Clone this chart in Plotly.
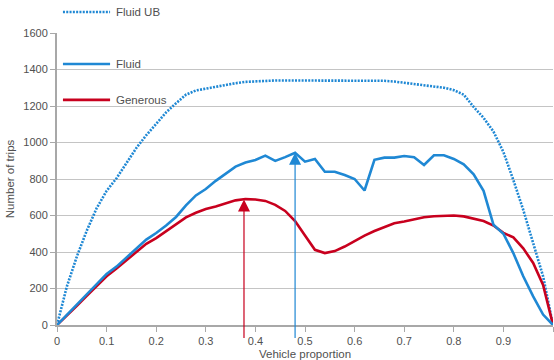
import plotly.graph_objects as go

# ---- data ----
vehicle_proportion = [0.00, 0.02, 0.04, 0.06, 0.08, 0.10, 0.12, 0.14, 0.16, 0.18,
                      0.20, 0.22, 0.24, 0.26, 0.28, 0.30, 0.32, 0.34, 0.36, 0.38,
                      0.40, 0.42, 0.44, 0.46, 0.48, 0.50, 0.52, 0.54, 0.56, 0.58,
                      0.60, 0.62, 0.64, 0.66, 0.68, 0.70, 0.72, 0.74, 0.76, 0.78,
                      0.80, 0.82, 0.84, 0.86, 0.88, 0.90, 0.92, 0.94, 0.96, 0.98, 1.00]

fluid_ub = [0, 212, 375, 517, 640, 735, 804, 890, 970, 1040,
            1100, 1165, 1215, 1262, 1285, 1296, 1305, 1315, 1325, 1332,
            1336, 1338, 1340, 1340, 1340, 1340, 1340, 1340, 1340, 1340,
            1340, 1340, 1340, 1338, 1334, 1328, 1322, 1315, 1310, 1300,
            1287, 1262, 1195, 1135, 1060, 948, 795, 631, 449, 267, 0]

fluid = [0, 55, 110, 170, 225, 280, 320, 370, 420, 468,
         504, 545, 592, 655, 710, 745, 790, 830, 868, 890,
         904, 928, 899, 920, 944, 895, 910, 840, 840, 822,
         800, 737, 905, 917, 917, 926, 919, 877, 930, 930,
         910, 880, 826, 735, 549, 500, 394, 267, 157, 57, 0]

generous = [0, 50, 105, 160, 215, 267, 310, 355, 400, 445,
            476, 515, 555, 590, 615, 635, 650, 668, 683, 690,
            688, 680, 658, 625, 570, 490, 412, 394, 405, 430,
            462, 490, 515, 535, 558, 567, 580, 590, 596, 600,
            600, 595, 582, 570, 545, 505, 480, 420, 340, 220, 0]

x_tick_vals = [0, 0.1, 0.2, 0.3, 0.4, 0.5, 0.6, 0.7, 0.8, 0.9, 1.0]
x_tick_text = ["0", "0.1", "0.2", "0.3", "0.4", "0.5", "0.6", "0.7", "0.8", "0.9", "1"]
y_tick_vals = [0, 200, 400, 600, 800, 1000, 1200, 1400, 1600]

series_names = ["Fluid UB", "Fluid", "Generous"]

# arrow markers (x position, head value)
generous_peak_x = 0.377
generous_peak_y = 688
fluid_peak_x = 0.48
fluid_peak_y = 944
arrow_tail_y = -80

BLUE = "#1f88d4"
RED = "#c8001e"
TEXT = "#505050"
FONT = "Liberation Sans, Arial, sans-serif"

fig = go.Figure()
fig.add_trace(go.Scatter(x=vehicle_proportion, y=fluid_ub, mode="lines", name=series_names[0],
                         line=dict(color=BLUE, width=2.6, dash="2px,1.3px"), showlegend=False))
fig.add_trace(go.Scatter(x=vehicle_proportion, y=generous, mode="lines", name=series_names[2],
                         line=dict(color=RED, width=2.6), showlegend=False))
fig.add_trace(go.Scatter(x=vehicle_proportion, y=fluid, mode="lines", name=series_names[1],
                         line=dict(color=BLUE, width=2.6), showlegend=False))

# arrows
for ax_x, tip_y, col in [(generous_peak_x, generous_peak_y, RED), (fluid_peak_x, fluid_peak_y, BLUE)]:
    fig.add_annotation(x=ax_x, y=tip_y, ax=ax_x, ay=arrow_tail_y, xref="x", yref="y",
                       axref="x", ayref="y", text="", showarrow=True,
                       arrowhead=2, arrowsize=2.0, arrowwidth=1.2, arrowcolor=col, standoff=0)

# manual legend
legend_rows = [(series_names[0], 1.072, BLUE, "2px,1.3px"),
               (series_names[1], 0.894, BLUE, "solid"),
               (series_names[2], 0.771, RED, "solid")]
for name, yy, col, dash in legend_rows:
    fig.add_shape(type="line", xref="paper", yref="paper", x0=0.012, x1=0.107, y0=yy, y1=yy,
                  line=dict(color=col, width=2.6, dash=dash))
    fig.add_annotation(xref="paper", yref="paper", x=0.115, y=yy, text=name, showarrow=False,
                       xanchor="left", yanchor="middle", font=dict(family=FONT, size=11.5, color=TEXT))

axis_gray = "#a8a8a8"
fig.update_layout(
    width=554, height=360,
    margin=dict(l=57, r=1, t=33, b=35),
    paper_bgcolor="white", plot_bgcolor="white",
    font=dict(family=FONT, size=11, color=TEXT),
    xaxis=dict(range=[0, 1], tickvals=x_tick_vals, ticktext=x_tick_text,
               showgrid=False, zeroline=False, showline=True, linecolor=axis_gray, linewidth=2,
               ticks="outside", ticklen=5, tickcolor=axis_gray, tickwidth=1.3,
               title=dict(text="Vehicle proportion", standoff=4, font=dict(size=11.5)),
               automargin=False),
    yaxis=dict(range=[0, 1600], tickvals=y_tick_vals,
               showgrid=True, gridcolor="#c4c4c4", gridwidth=1.3, zeroline=False,
               showline=True, linecolor=axis_gray, linewidth=2,
               ticks="outside", ticklen=5, tickcolor=axis_gray, tickwidth=1.3,
               title=dict(text="Number of trips", standoff=6, font=dict(size=11.5)),
               automargin=False),
)

fig.write_html("out.html", config={"displayModeBar": False},
               post_script="document.body.style.margin='0';")
